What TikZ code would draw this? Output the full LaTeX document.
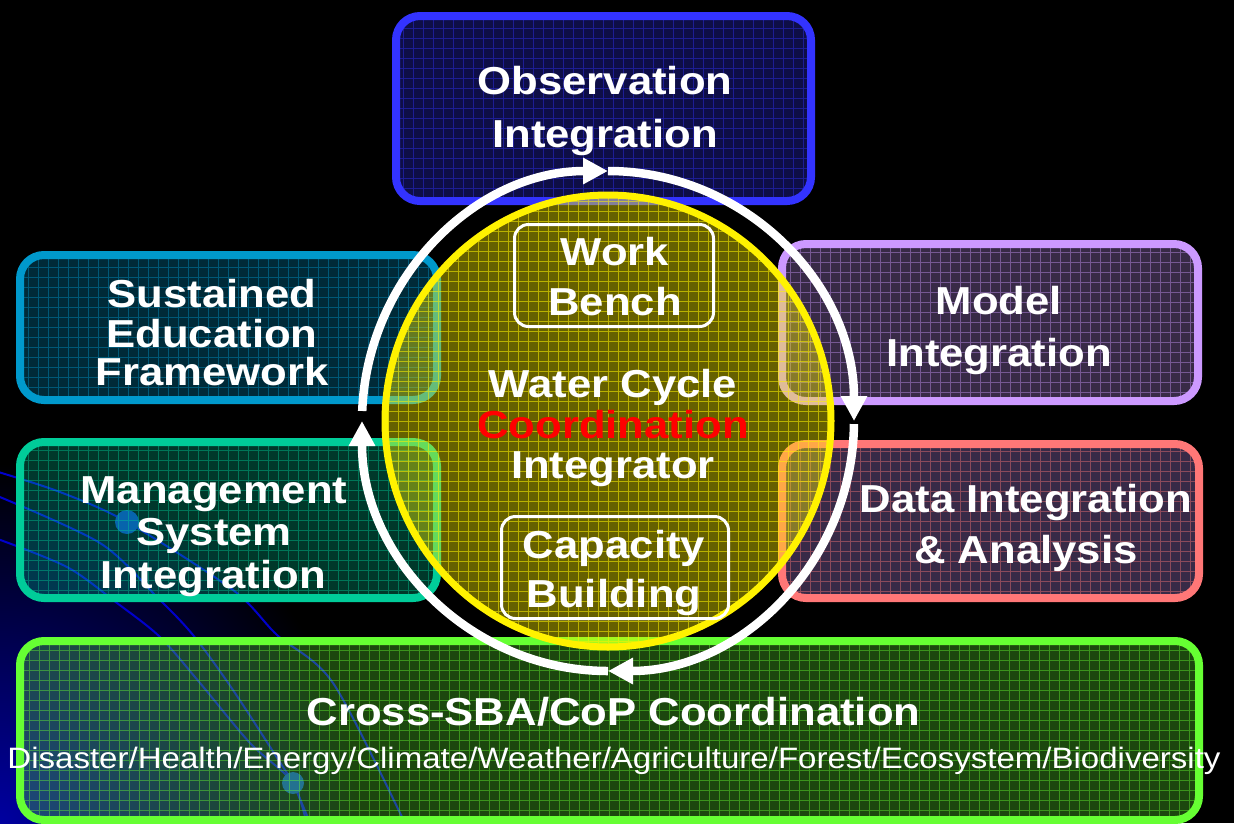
\documentclass[tikz,border=0pt]{standalone}
\usepackage{fontspec}
\setmainfont[FakeStretch=1.12]{Liberation Sans}
\usetikzlibrary{shapes.geometric,arrows.meta}
\definecolor{obsB}{HTML}{3333FF}
\definecolor{susB}{HTML}{0099CC}
\definecolor{mgtB}{HTML}{00CC99}
\definecolor{modB}{HTML}{CC99FF}
\definecolor{datB}{HTML}{FF7777}
\definecolor{crsB}{HTML}{66FF33}
\definecolor{orbit}{HTML}{0000CC}
\definecolor{orbdot}{HTML}{0A3CB4}
\definecolor{deepblue}{HTML}{0000A0}
\tikzset{
  panel/.style n args={2}{rounded corners=24pt, line width=8pt, inner sep=0pt,
    draw=#1, fill=#2, fill opacity=0.28,
    path picture={\draw[line width=0.8pt, draw opacity=0.42, color=#1]
      (path picture bounding box.south west) grid[step=10pt] (path picture bounding box.north east);}},
  inbox/.style={draw=white, line width=3pt, rounded corners=14pt, inner sep=0pt},
  bt/.style={text=white, font=\fontsize{39}{39}\selectfont\bfseries, anchor=base, inner sep=0pt},
  rt/.style={text=white, font=\fontsize{29.5}{29.5}\selectfont, anchor=base, inner sep=0pt},
  ringarc/.style={draw=white, line width=8.5pt, -{Triangle[length=25pt,width=25pt]}},
  orbitline/.style={draw=orbit, line width=2pt},
}
\begin{document}
\begin{tikzpicture}[x=1pt,y=1pt]
\useasboundingbox (0,0) rectangle (1234,-823);
% background
\fill[black] (0,0) rectangle (1234,-823);
\begin{scope}
  \clip (0,0) rectangle (1234,-823);
  \shade[inner color=deepblue, outer color=black] (0,-823) circle (360);
  \draw[orbitline] plot[smooth] coordinates {(-5,-471) (60,-492) (127,-522) (233,-590) (277,-635) (333,-683) (405,-823) (410,-835)};
  \draw[orbitline] plot[smooth] coordinates {(-5,-495) (100,-543) (157,-597) (193,-635) (233,-690) (283,-767) (293,-783) (313,-830)};
  \draw[orbitline] plot[smooth] coordinates {(-5,-538) (67,-567) (117,-603) (160,-637) (200,-683) (250,-743) (293,-783) (308,-830)};
  \fill[orbdot] (127,-522) circle (12);
  \fill[orbdot] (293,-783) circle (11);
\end{scope}
% outer boxes
\node[panel={obsB}{obsB}, minimum width=415pt, minimum height=185pt] (obs) at (603.5,-108.5) {};
\node[panel={susB}{susB}, minimum width=417pt, minimum height=145pt] (sus) at (228.5,-327.5) {};
\node[panel={mgtB}{mgtB}, minimum width=417pt, minimum height=156pt] (mgt) at (228.5,-520) {};
\node[panel={modB}{modB}, minimum width=416pt, minimum height=157pt] (mod) at (990,-322.5) {};
\node[panel={datB}{modB}, minimum width=417pt, minimum height=154pt] (dat) at (990.5,-521) {};
\node[panel={crsB}{crsB}, minimum width=1179pt, minimum height=179pt] (crs) at (609.5,-730.5) {};
% box texts
\node[bt] (obs1) at (605,-94) {Observation};
\node[bt] (obs2) at (605,-147) {Integration};
\node[bt] (sus1) at (212,-307) {Sustained};
\node[bt] (sus2) at (212,-347) {Education};
\node[bt] (sus3) at (212,-385) {Framework};
\node[bt] (mgt1) at (214,-503) {Management};
\node[bt] (mgt2) at (214,-545) {System};
\node[bt] (mgt3) at (213,-588) {Integration};
\node[bt] (mod1) at (999,-314) {Model};
\node[bt] (mod2) at (999,-366) {Integration};
\node[bt] (dat1) at (1026,-512) {Data Integration};
\node[bt] (dat2) at (1026,-563) {\& Analysis};
\node[bt] (crs1) at (613.5,-725) {Cross-SBA/CoP Coordination};
\node[rt] (crs2) at (614,-768) {Disaster/Health/Energy/Climate/Weather/Agriculture/Forest/Ecosystem/Biodiversity};
% central circle
\node[ellipse, draw=yellow, line width=7pt, fill=yellow, fill opacity=0.4, inner sep=0pt,
      minimum width=446pt, minimum height=452pt,
      path picture={\draw[line width=0.8pt, draw opacity=0.55, color=yellow]
        (path picture bounding box.south west) grid[step=10pt] (path picture bounding box.north east);}]
      (core) at (608,-421) {};
\node[inbox, minimum width=199pt, minimum height=102pt] (wb) at (614,-275.5) {};
\node[inbox, minimum width=227pt, minimum height=102pt] (cb) at (615,-567.5) {};
\node[bt] (wb1) at (615,-265) {Work};
\node[bt] (wb2) at (615,-315) {Bench};
\node[bt] (cb1) at (614,-558) {Capacity};
\node[bt] (cb2) at (614,-607) {Building};
\node[bt] (wc1) at (613,-397) {Water Cycle};
\node[bt, text=red] (wc2) at (613,-438) {Coordination};
\node[bt] (wc3) at (613,-478) {Integrator};
% ring of arrows
\coordinate (rL) at ([shift={(177.7:246 and 250)}]608,-421);
\coordinate (rT) at (608,-171);
\coordinate (rR) at ([shift={(-0.7:246 and 250)}]608,-421);
\coordinate (rB) at (608,-671);
\draw[ringarc] (rL) arc[start angle=177.7, end angle=90, x radius=246, y radius=250];
\draw[ringarc] (rT) arc[start angle=90, end angle=0, x radius=246, y radius=250];
\draw[ringarc] (rR) arc[start angle=-0.7, end angle=-90, x radius=246, y radius=250];
\draw[ringarc] (rB) arc[start angle=-90, end angle=-180, x radius=246, y radius=250];
\end{tikzpicture}
\end{document}
